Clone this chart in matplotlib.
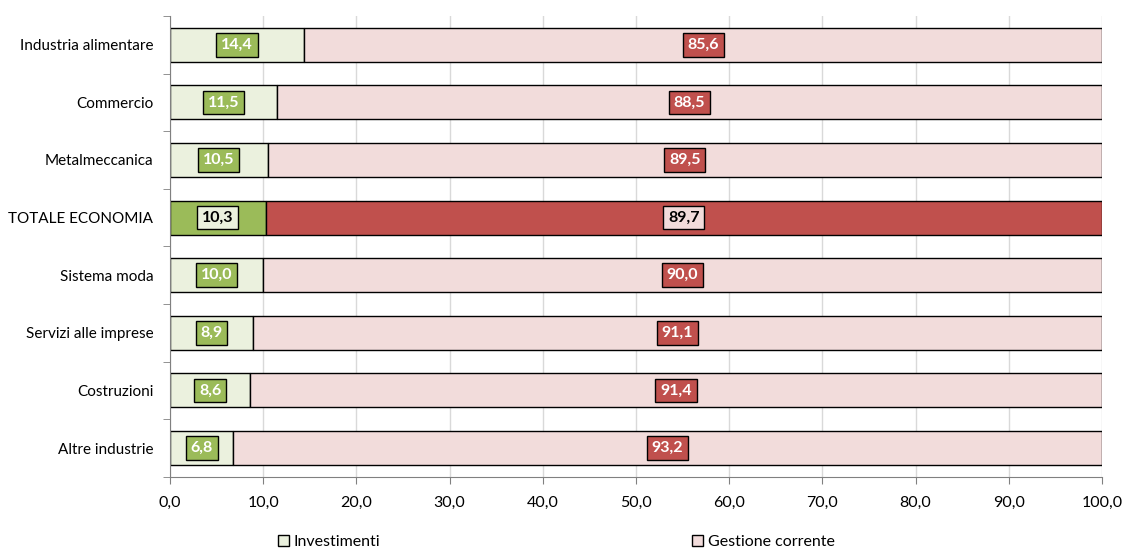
import matplotlib.pyplot as plt
import numpy as np
from matplotlib.patches import Patch

plt.rcParams['font.family'] = ['Lato', 'DejaVu Sans']

categories = ["Industria alimentare", "Commercio", "Metalmeccanica", "TOTALE ECONOMIA",
              "Sistema moda", "Servizi alle imprese", "Costruzioni", "Altre industrie"]
investimenti = [14.4, 11.5, 10.5, 10.3, 10.0, 8.9, 8.6, 6.8]
gestione = [85.6, 88.5, 89.5, 89.7, 90.0, 91.1, 91.4, 93.2]
highlight = "TOTALE ECONOMIA"

GREEN_LIGHT, GREEN = "#EBF1DE", "#9BBB59"
RED_LIGHT, RED = "#F2DCDB", "#C0504D"

fig = plt.figure(figsize=(11.24, 5.5), dpi=100)
ax = fig.add_axes([0.1512, 0.133, 0.8292, 0.838])

y = np.arange(len(categories))[::-1]

def fmt(v):
    return f"{v:.1f}".replace(".", ",")

for yi, cat, inv, ges in zip(y, categories, investimenti, gestione):
    hl = cat == highlight
    ax.barh(yi, inv, height=0.59, color=GREEN if hl else GREEN_LIGHT,
            edgecolor="black", linewidth=1.0, zorder=2)
    ax.barh(yi, ges, left=inv, height=0.59, color=RED if hl else RED_LIGHT,
            edgecolor="black", linewidth=1.0, zorder=2)
    for x, v, fill, light in [(inv / 2, inv, GREEN, GREEN_LIGHT),
                              (inv + ges / 2, ges, RED, RED_LIGHT)]:
        ax.text(x, yi, fmt(v), ha="center", va="center", fontsize=11.5,
                fontweight="bold", color="black" if hl else "white", zorder=3,
                bbox=dict(boxstyle="square,pad=0.3", facecolor=light if hl else fill,
                          edgecolor="black", linewidth=1.0))

ax.set_xlim(0, 100)
ax.set_ylim(-0.5, len(categories) - 0.5)
ax.set_xticks(np.arange(0, 101, 10))
ax.set_xticklabels([fmt(v) for v in np.arange(0, 101, 10)], fontsize=11.5)
ax.set_yticks(y)
ax.set_yticklabels(categories, fontsize=11)
ax.set_yticks(np.arange(-0.5, len(categories)), minor=True)
ax.tick_params(axis="y", which="major", length=0, pad=12)
ax.tick_params(axis="y", which="minor", length=5, color="#808080")
ax.tick_params(axis="x", length=5, color="#808080", pad=9)

ax.grid(axis="x", color="#D9D9D9", linewidth=1.0, zorder=0)
for s in ["top", "right"]:
    ax.spines[s].set_visible(False)
for s in ["left", "bottom"]:
    ax.spines[s].set_color("#808080")

handles = [Patch(facecolor=GREEN_LIGHT, edgecolor="black", label="Investimenti"),
           Patch(facecolor=RED_LIGHT, edgecolor="black", label="Gestione corrente")]
fig.legend(handles=handles, loc="center", bbox_to_anchor=(0.495, 0.015), ncol=2,
           frameon=False, fontsize=11.5, columnspacing=19.5, handlelength=0.7,
           handleheight=0.7, handletextpad=0.3)

fig.savefig("out.png", dpi=100)
